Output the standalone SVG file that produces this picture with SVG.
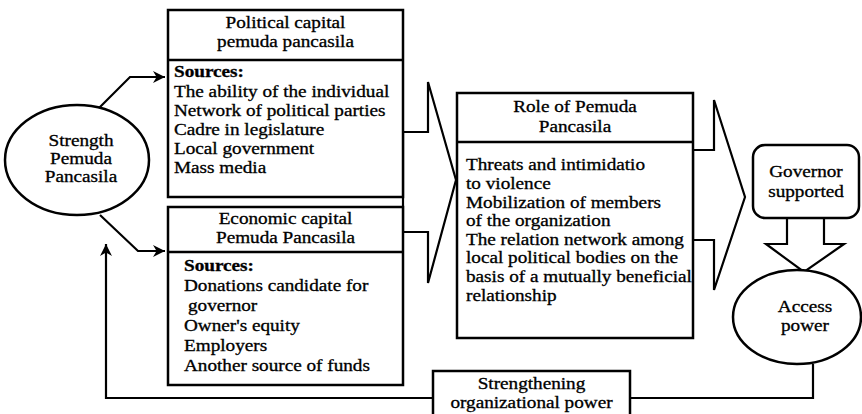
<svg xmlns="http://www.w3.org/2000/svg" width="862" height="414" viewBox="0 0 862 414">
<defs>
<style>
.box{fill:#fff;stroke:#000;stroke-width:2.5}
.ln{fill:none;stroke:#000;stroke-width:2.2}
.big{fill:#fff;stroke:#000;stroke-width:2.2;stroke-linejoin:miter}
text{font-family:"Liberation Serif","Times New Roman",serif;font-size:16px;fill:#000;stroke:#000;stroke-width:0.3}
.c{text-anchor:middle}
.b{font-weight:bold}
</style>
<marker id="ah" markerWidth="12" markerHeight="12" refX="10" refY="5" orient="auto" markerUnits="userSpaceOnUse" viewBox="0 0 10 10">
<path d="M0,0 L10,5 L0,10 L3,5 z" fill="#000"/>
</marker>
</defs>
<rect width="862" height="414" fill="#fff"/>

<g id="connectors">
<polyline class="ln" points="97,110 130,77 165,77" marker-end="url(#ah)"/>
<polyline class="ln" points="100,215 138,251 165,251" marker-end="url(#ah)"/>
<polyline class="ln" points="813,364 813,398 106,398 106,244" marker-end="url(#ah)"/>
<polygon class="big" points="403,132 428,132 428,82 456,180 428,283 428,232 403,232"/>
<polygon class="big" points="693,150 714,150 714,100 745,197 714,290 714,240 693,240"/>
<polygon class="big" points="787,218 787,244 766,244 804,272 844,244 824,244 824,218"/>
</g>

<g id="strength">
<ellipse class="box" cx="77" cy="160" rx="72" ry="55"/>
<text class="c" transform="translate(81,146) scale(1.2,1)">Strength</text>
<text class="c" transform="translate(81,164) scale(1.2,1)">Pemuda</text>
<text class="c" transform="translate(81,182) scale(1.2,1)">Pancasila</text>
</g>

<g id="political">
<rect class="box" x="168" y="10" width="235" height="187"/>
<line class="box" x1="168" y1="60" x2="403" y2="60"/>
<text class="c" transform="translate(285.5,28) scale(1.2,1)">Political capital</text>
<text class="c" transform="translate(285.5,47) scale(1.2,1)">pemuda pancasila</text>
<text class="b" transform="translate(174,77) scale(1.2,1)">Sources:</text>
<text transform="translate(174,97) scale(1.2,1)">The ability of the individual</text>
<text transform="translate(174,116) scale(1.2,1)">Network of political parties</text>
<text transform="translate(174,135) scale(1.2,1)">Cadre in legislature</text>
<text transform="translate(174,154) scale(1.2,1)">Local government</text>
<text transform="translate(174,173) scale(1.2,1)">Mass media</text>
</g>

<g id="economic">
<rect class="box" x="168" y="207" width="235" height="178"/>
<line class="box" x1="168" y1="252" x2="403" y2="252"/>
<text class="c" transform="translate(285.5,224) scale(1.2,1)">Economic capital</text>
<text class="c" transform="translate(285.5,243) scale(1.2,1)">Pemuda Pancasila</text>
<text class="b" transform="translate(184,271) scale(1.2,1)">Sources:</text>
<text transform="translate(184,291) scale(1.2,1)">Donations candidate for</text>
<text transform="translate(188,311) scale(1.2,1)">governor</text>
<text transform="translate(184,331) scale(1.2,1)">Owner's equity</text>
<text transform="translate(184,351) scale(1.2,1)">Employers</text>
<text transform="translate(184,371) scale(1.2,1)">Another source of funds</text>
</g>

<g id="role">
<rect class="box" x="457" y="93" width="236" height="245"/>
<line class="box" x1="457" y1="142" x2="693" y2="142"/>
<text class="c" transform="translate(575,112) scale(1.2,1)">Role of Pemuda</text>
<text class="c" transform="translate(575,132) scale(1.2,1)">Pancasila</text>
<text transform="translate(466,170) scale(1.2,1)">Threats and intimidatio</text>
<text transform="translate(466,189) scale(1.2,1)">to violence</text>
<text transform="translate(466,208) scale(1.2,1)">Mobilization of members</text>
<text transform="translate(466,226) scale(1.2,1)">of the organization</text>
<text transform="translate(466,245) scale(1.2,1)">The relation network among</text>
<text transform="translate(466,263) scale(1.2,1)">local political bodies on the</text>
<text transform="translate(466,282) scale(1.2,1)">basis of a mutually beneficial</text>
<text transform="translate(466,301) scale(1.2,1)">relationship</text>
</g>

<g id="governor">
<rect class="box" x="753" y="145" width="106" height="73" rx="12" ry="12"/>
<text class="c" transform="translate(806,177) scale(1.2,1)">Governor</text>
<text class="c" transform="translate(806,197) scale(1.2,1)">supported</text>
</g>

<g id="access">
<ellipse class="box" cx="797" cy="317" rx="64" ry="47"/>
<text class="c" transform="translate(805,312) scale(1.2,1)">Access</text>
<text class="c" transform="translate(805,331) scale(1.2,1)">power</text>
</g>

<g id="strengthening">
<rect class="box" x="433" y="371" width="197" height="60"/>
<text class="c" transform="translate(531.5,389) scale(1.2,1)">Strengthening</text>
<text class="c" transform="translate(531.5,408) scale(1.2,1)">organizational power</text>
</g>
</svg>
